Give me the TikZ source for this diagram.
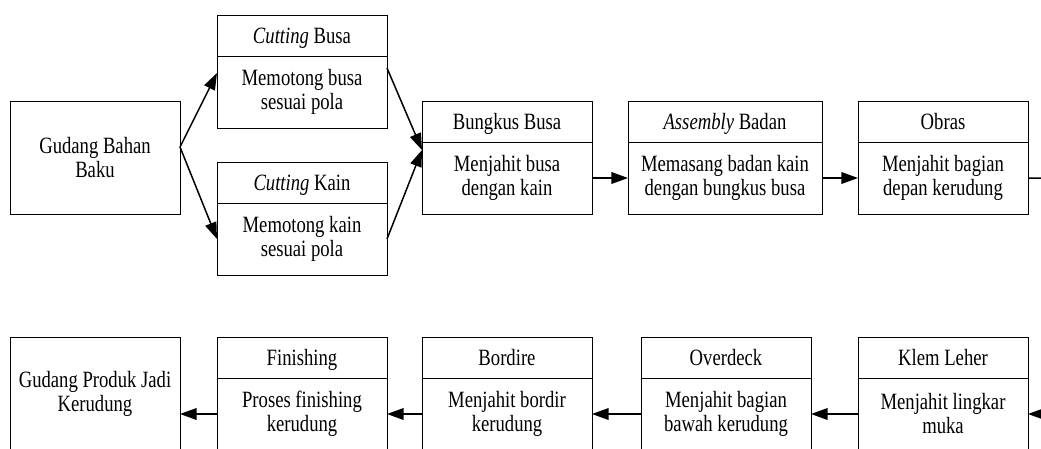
\documentclass[tikz,border=0pt]{standalone}
\usepackage{fontspec}
\setmainfont{Liberation Serif}[FakeStretch=0.8]
\usetikzlibrary{arrows.meta,positioning}

\begin{document}
\begin{tikzpicture}[
    x=0.6pt, y=-0.6pt,
    font=\fontsize{14}{14.4}\selectfont,
    frame/.style={draw, line width=0.6pt, align=center, minimum width=102pt,
                inner sep=1pt, outer sep=0pt},
    box/.style={frame, minimum height=67.8pt},
    head/.style={frame, minimum height=24.6pt, text height=9.2pt, text depth=0pt},
    body/.style={frame, minimum height=43.2pt, below=0pt of #1},
    arrow/.style={-{Triangle[length=10pt,width=7pt]}, line width=0.9pt}
]
\useasboundingbox (0,0) rectangle (1041,448);
\clip (0,0) rectangle (1041,448);

% upper row
\node[box, anchor=north west] (gbb) at (10,101) {Gudang Bahan\\Baku};

\node[head, anchor=north west] (cbH) at (217,15) {\textit{Cutting} Busa};
\node[body=cbH] (cb) {Memotong busa\\sesuai pola};

\node[head, anchor=north west] (ckH) at (217,162) {\textit{Cutting} Kain};
\node[body=ckH] (ck) {Memotong kain\\sesuai pola};

\node[head, anchor=north west] (bbH) at (422,101) {Bungkus Busa};
\node[body=bbH] (bb) {Menjahit busa\\dengan kain};

\node[head, anchor=north west, minimum width=116.4pt] (abH) at (628,101)
    {\textit{Assembly} Badan};
\node[body=abH, minimum width=116.4pt] (ab)
    {Memasang badan kain\\dengan bungkus busa};

\node[head, anchor=north west] (obH) at (858,101) {Obras};
\node[body=obH] (ob) {Menjahit bagian\\depan kerudung};

% lower row
\node[box, anchor=north west] (gpj) at (10,337) {Gudang Produk Jadi\\Kerudung};

\node[head, anchor=north west] (fiH) at (217,337) {Finishing};
\node[body=fiH] (fi) {Proses finishing\\kerudung};

\node[head, anchor=north west] (boH) at (422,337) {Bordire};
\node[body=boH] (bo) {Menjahit bordir\\kerudung};

\node[head, anchor=north west] (odH) at (641,337) {Overdeck};
\node[body=odH] (od) {Menjahit bagian\\bawah kerudung};

\node[head, anchor=north west] (klH) at (858,337) {Klem Leher};
\node[body=klH] (kl) {Menjahit lingkar\\muka};

\coordinate (obout) at (1046,178);
\coordinate (klin) at (1046,414);

\draw[arrow] ([yshift=6.3pt]gbb.east) -- ([yshift=11.4pt]cb.west);
\draw[arrow] ([yshift=6.3pt]gbb.east) -- (ck.west);
\draw[arrow] ([yshift=14.4pt]cb.east) -- ([yshift=16.8pt]bb.west);
\draw[arrow] (ck.east) -- ([yshift=16.8pt]bb.west);
\draw[arrow] (bb) -- (ab);
\draw[arrow] (ab) -- (ob);
\draw[line width=0.9pt] (ob.east) -- (obout);

\draw[arrow] (klin) -- (kl.east);
\draw[arrow] (kl) -- (od);
\draw[arrow] (od) -- (bo);
\draw[arrow] (bo) -- (fi);
\draw[arrow] (fi.west) -- ([yshift=-12.3pt]gpj.east);

\end{tikzpicture}
\end{document}
